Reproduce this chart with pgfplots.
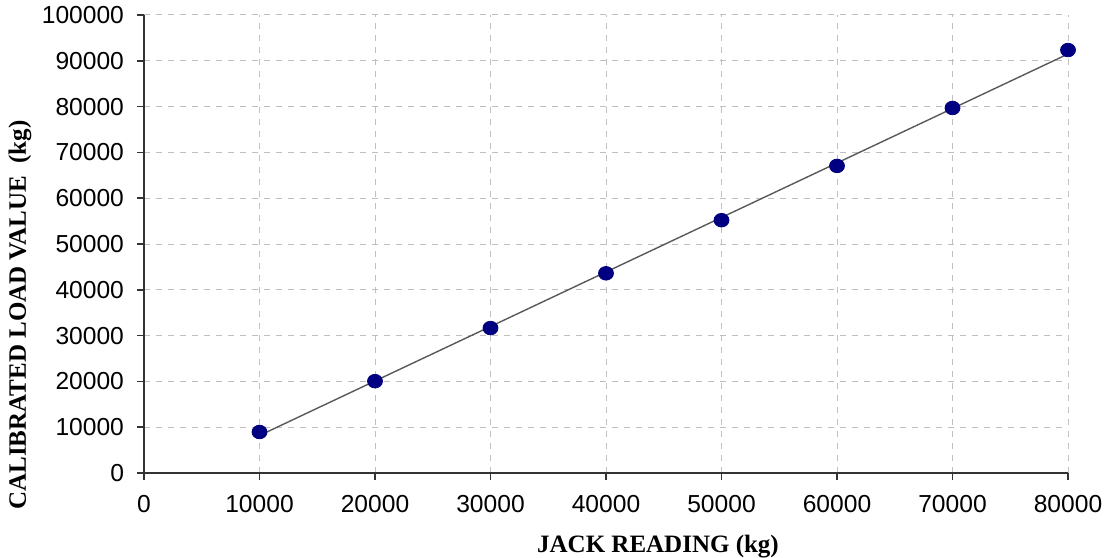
\documentclass[border=0pt]{standalone}
\usepackage{fontspec}
\setmainfont{Liberation Serif}
\newfontfamily\ticksans{Liberation Sans}
\usepackage{pgfplots}
\pgfplotsset{compat=1.18}
\definecolor{navy}{RGB}{0,0,128}
\begin{document}
\begin{tikzpicture}
\begin{axis}[
  scale only axis,
  width=462pt, height=229pt,
  xmin=0, xmax=80000, ymin=0, ymax=100000,
  xtick={0,10000,...,80000},
  ytick={0,10000,...,100000},
  scaled ticks=false,
  /pgf/number format/fixed,
  /pgf/number format/precision=0,
  /pgf/number format/1000 sep={},
  /pgf/number format/assume math mode=true,
  ticklabel style={font=\ticksans\fontsize{12.3}{14}\selectfont, text=black},
  axis x line=bottom, axis y line=left,
  axis line style={-, draw=black!80, line width=0.8pt},
  tick style={draw=black!80, line width=0.8pt},
  tick align=outside,
  major tick length=3.5pt,
  xticklabel style={yshift=-4pt},
  yticklabel style={xshift=-3pt},
  grid=major,
  major grid style={dashed, draw=black!25, line width=0.5pt},
  clip=false,
]
\addplot[draw=black!65, line width=0.7pt] coordinates {(10000,8190) (80000,91490)};
\addplot[only marks, mark=*, mark size=3.4pt, mark options={fill=navy, draw=navy, xscale=1.1}] coordinates {
(10000,8950) (20000,20050) (30000,31650) (40000,43600) (50000,55200) (60000,67050) (70000,79700) (80000,92350)};
\end{axis}
\node[font=\bfseries\fontsize{12.5}{14}\selectfont, anchor=center] at ([xshift=257pt, yshift=-37pt]current axis.south west) {JACK READING (kg)};
\node[font=\bfseries\fontsize{12.5}{14}\selectfont, anchor=center, rotate=90] at ([xshift=-62pt, yshift=79pt]current axis.south west) {CALIBRATED LOAD VALUE~~(kg)};
\pgfresetboundingbox
\path ([shift={(-72pt,-42pt)}]current axis.south west) rectangle ([shift={(19.5pt,7.5pt)}]current axis.north east);
\end{tikzpicture}
\end{document}
